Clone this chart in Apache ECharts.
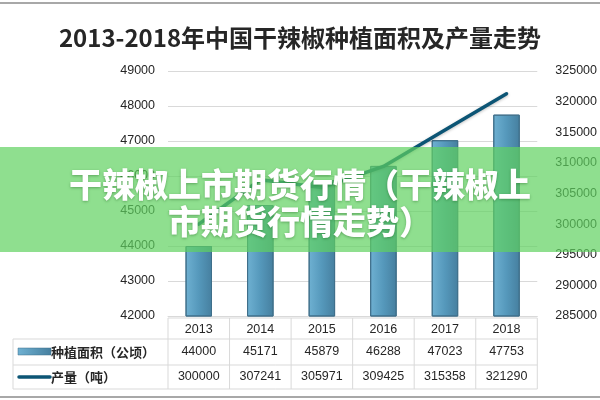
<!DOCTYPE html>
<html><head><meta charset="utf-8">
<script src="https://cdn.jsdelivr.net/npm/echarts@6/dist/echarts.min.js"></script>
<style>html,body{margin:0;padding:0;background:#fff}#c{width:600px;height:400px}</style>
</head><body><div id="c"></div>
<script>
var titleText = '2013-2018年中国干辣椒种植面积及产量走势';
var bannerLines = ['干辣椒上市期货行情（干辣椒上', '市期货行情走势）'];
var years = ['2013', '2014', '2015', '2016', '2017', '2018'];
var areaName = '种植面积（公顷）';
var outputName = '产量（吨）';
var area = [44000, 45171, 45879, 46288, 47023, 47753];
var output = [300000, 307241, 305971, 309425, 315358, 321290];

var chart = echarts.init(document.getElementById('c'), null, {renderer: 'canvas'});
var FONT = '"Liberation Sans","Noto Sans CJK SC",sans-serif';
var CJK = '"Noto Sans CJK SC",sans-serif';
function plain(v) { return String(v); }
var option = {
  animation: false,
  backgroundColor: '#fff',
  title: {text: titleText, left: 'center', top: 21,
    textStyle: {fontFamily: CJK, fontSize: 24, fontWeight: 'bold', color: '#262626'}},
  grid: {left: 168, right: 53, top: 71, bottom: 84},
  xAxis: {type: 'category', data: years,
    axisLine: {show: true, lineStyle: {color: '#d9d9d9'}}, axisTick: {show: false},
    axisLabel: {margin: 7, fontFamily: FONT, fontSize: 12.5, color: '#262626'}},
  yAxis: [
    {type: 'value', min: 42000, max: 49000, interval: 1000,
      axisLine: {show: false}, axisTick: {show: false},
      splitLine: {lineStyle: {color: '#d9d9d9'}},
      axisLabel: {margin: 13, formatter: plain, fontFamily: FONT, fontSize: 12.5, color: '#262626'}},
    {type: 'value', min: 285000, max: 325000, interval: 5000,
      axisLine: {show: false}, axisTick: {show: false}, splitLine: {show: false},
      axisLabel: {margin: 18, formatter: plain, fontFamily: FONT, fontSize: 12.5, color: '#262626'}}
  ],
  series: [
    {type: 'bar', name: areaName, data: area, barWidth: '43%', yAxisIndex: 0,
      itemStyle: {color: new echarts.graphic.LinearGradient(0, 0, 1, 0, [
        {offset: 0, color: '#6fb1d2'}, {offset: 0.5, color: '#5598bb'}, {offset: 1, color: '#467f9f'}]),
        borderColor: '#3f6f8a', borderWidth: 1}},
    {type: 'line', name: outputName, data: output, yAxisIndex: 1, showSymbol: false, symbol: 'none',
      z: 5,
      lineStyle: {color: '#0c5575', width: 3.5, cap: 'round',
        shadowColor: 'rgba(0,0,0,0.25)', shadowBlur: 3, shadowOffsetY: 1}}
  ]
};
chart.setOption(option);

var xs = years.map(function (y) { return chart.convertToPixel({xAxisIndex: 0}, y); });
var colW = xs.length > 1 ? xs[1] - xs[0] : 63;
var tLeft = 13, c0 = xs[0] - colW / 2, cEnd = xs[xs.length - 1] + colW / 2;
var rTop = 318, r1 = 339, r2 = 365, rBot = 389;
var lc = '#d9d9d9';
var g = [];
function ln(x1, y1, x2, y2) { g.push({type: 'line', shape: {x1: x1, y1: y1, x2: x2, y2: y2}, style: {stroke: lc, lineWidth: 1}, z: 10}); }
ln(c0, rTop, cEnd, rTop);
ln(tLeft, r1, cEnd, r1);
ln(tLeft, r2, cEnd, r2);
ln(tLeft, rBot, cEnd, rBot);
ln(tLeft, r1, tLeft, rBot);
for (var i = 0; i <= years.length; i++) { var vx = c0 + i * colW; ln(vx, rTop, vx, rBot); }
function txt(x, y, s, align, font) {
  g.push({type: 'text', x: x, y: y, style: {text: s, fill: '#262626', font: font || ('12.5px ' + FONT), textAlign: align || 'center', textVerticalAlign: 'middle'}, z: 11});
}
area.forEach(function (v, i) { txt(xs[i], (r1 + r2) / 2, String(v)); });
output.forEach(function (v, i) { txt(xs[i], (r2 + rBot) / 2, String(v)); });
txt(51, (r1 + r2) / 2, areaName, 'left', 'bold 13px ' + CJK);
txt(51, (r2 + rBot) / 2, outputName, 'left', 'bold 13px ' + CJK);
g.push({type: 'rect', shape: {x: 18, y: 348, width: 33, height: 7},
  style: {fill: new echarts.graphic.LinearGradient(0, 0, 1, 0, [{offset: 0, color: '#6fb1d2'}, {offset: 1, color: '#467f9f'}]), stroke: '#3f6f8a', lineWidth: 0.5}, z: 11});
g.push({type: 'line', shape: {x1: 19, y1: 377, x2: 50, y2: 377}, style: {stroke: '#0c5575', lineWidth: 3.5, lineCap: 'round'}, z: 11});
// frame lines
g.push({type: 'rect', shape: {x: 0, y: 2, width: 600, height: 2}, style: {fill: '#a8a8a8'}, z: 11});
g.push({type: 'rect', shape: {x: 0, y: 396, width: 600, height: 2}, style: {fill: '#a8a8a8'}, z: 11});
// banner overlay
g.push({type: 'rect', shape: {x: 0, y: 147, width: 600, height: 105}, style: {fill: 'rgba(95,210,95,0.7)'}, z: 50});
bannerLines.forEach(function (s, i) {
  g.push({type: 'text', x: 300, y: 184 + i * 37, style: {text: s, fill: '#fff', font: '900 33px ' + CJK, textAlign: 'center', textVerticalAlign: 'middle',
    textShadowColor: 'rgba(0,60,0,0.35)', textShadowBlur: 3, textShadowOffsetY: 1}, z: 51});
});
chart.setOption({graphic: g});
</script></body></html>
